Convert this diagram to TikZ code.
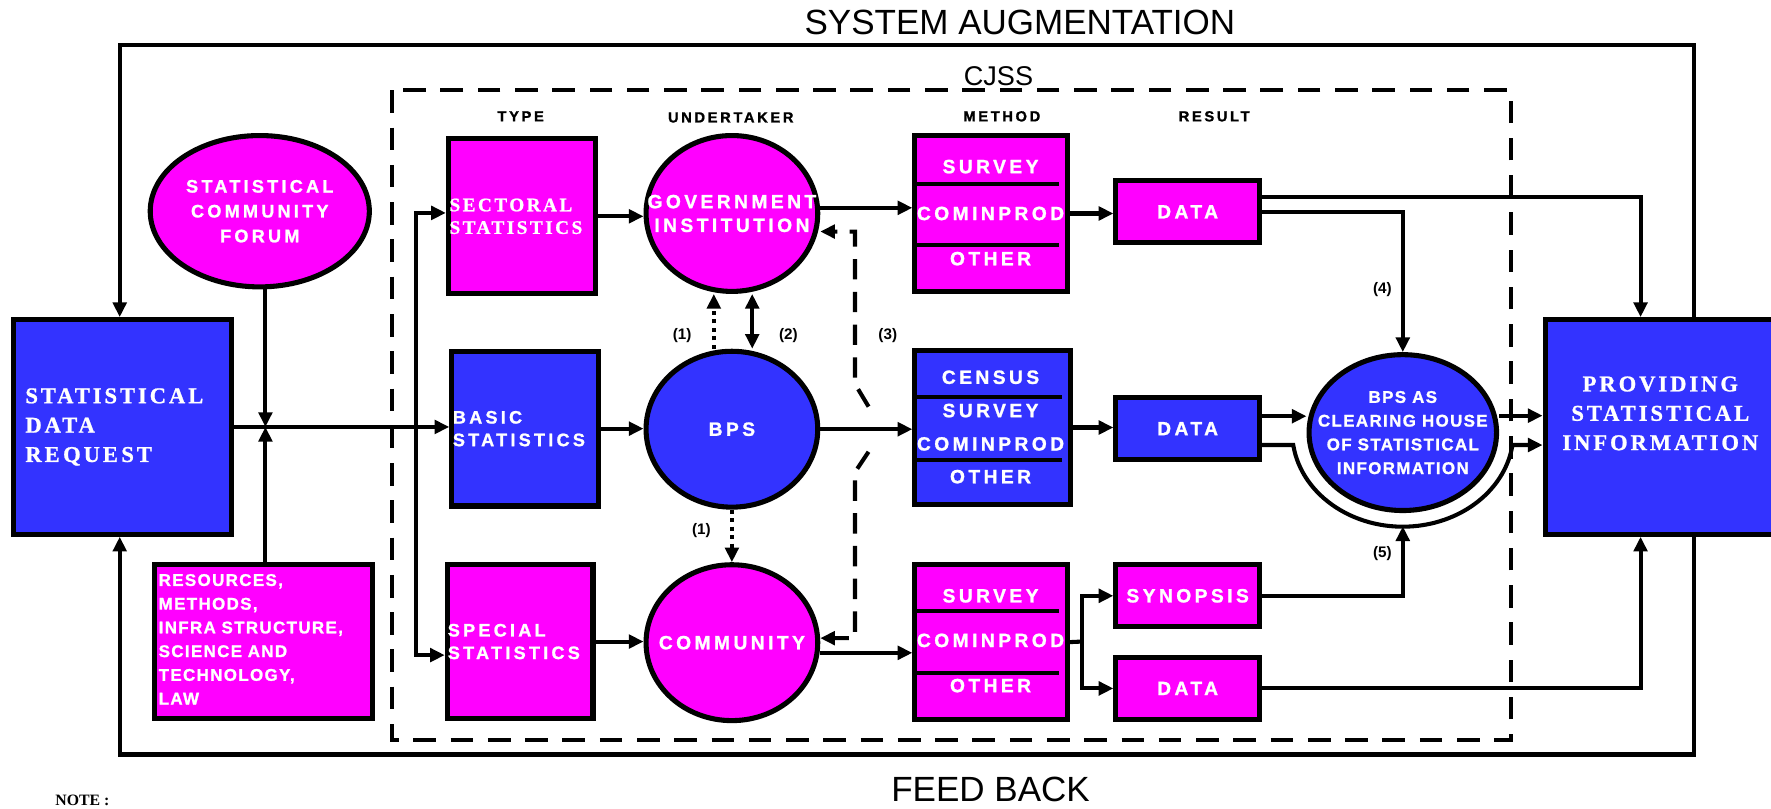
\documentclass[tikz,border=0pt]{standalone}
\usepackage{fontspec}
\setmainfont{Liberation Serif}
\setsansfont{Liberation Sans}
\newfontfamily\nsans[LetterSpace=18, BoldFeatures={FakeBold=1.2}]{Liberation Sans}
\newfontfamily\rsans[LetterSpace=8, BoldFeatures={FakeBold=1.2}]{Liberation Sans}
\newfontfamily\nserif[LetterSpace=13, BoldFeatures={FakeBold=1}]{Liberation Serif}
\usetikzlibrary{arrows.meta,shapes.geometric,calc}
\definecolor{mag}{HTML}{FF00FF}
\definecolor{blu}{HTML}{3333FF}
\tikzset{
  bx/.style={draw=black, line width=4.5pt, inner sep=0pt},
  tf/.style={font=\nsans\bfseries\fontsize{17}{21}\selectfont, text=white, align=center, inner sep=0pt},
  el/.style={ellipse, draw=black, line width=4.5pt, inner sep=0pt, minimum width=152pt, minimum height=138pt},
  hd/.style={font=\nsans\bfseries\fontsize{13}{14}\selectfont},
  lbl/.style={font=\sffamily\bfseries\fontsize{13.5}{14}\selectfont},
  ln/.style={line width=3.6pt},
  arr/.style={line width=3.6pt, -{Triangle[length=13pt,width=12pt]}},
  dblarr/.style={line width=3.6pt, {Triangle[length=13pt,width=12pt]}-{Triangle[length=13pt,width=12pt]}},
  dotarr/.style={arr, dash pattern=on 3.5pt off 4pt},
  dsh/.style={line width=3.6pt, dash pattern=on 20pt off 13pt},
  dshb/.style={arr, dash pattern=on 18pt off 11pt},
  st/.style={font=\nserif\bfseries\fontsize{20}{26}\selectfont, text=white},
}
\begin{document}
\begin{tikzpicture}[x=1pt,y=-1pt]
\useasboundingbox (0,0) rectangle (1568,716);
\clip (0,0) rectangle (1568,716);

% titles
\node[font=\sffamily\fontsize{31}{32}\selectfont] (tsys) at (903,20) {SYSTEM AUGMENTATION};
\node[font=\sffamily\fontsize{31}{32}\selectfont] (tfb) at (877,699) {FEED BACK};
\node[font=\bfseries\fontsize{14}{15}\selectfont, anchor=base] (tnote) at (73,713) {NOTE :};

% dashed CJSS frame
\draw[dsh] (347,80) rectangle (1338,655);
\node[font=\sffamily\fontsize{24}{26}\selectfont] (tcjss) at (884,67) {CJSS};

% headers
\node[hd] (htype) at (461,103) {TYPE};
\node[hd] (hund) at (647,104) {UNDERTAKER};
\node[hd] (hmet) at (887,103) {METHOD};
\node[hd] (hres) at (1075,103) {RESULT};

% left side
\node[bx, fill=blu, minimum width=193pt, minimum height=190pt] (req) at (108.5,378) {};
\node[st, text width=172pt, align=left] (reqt) at (req) {STATISTICAL\\DATA\\RE\hspace{3pt}QUE\hspace{3pt}ST};
\node[el, fill=mag, minimum width=194pt, minimum height=134pt] (forum) at (230,187) {};
\node[tf, font=\nsans\bfseries\fontsize{16}{22}\selectfont] (forumt) at (forum) {STATISTICAL\\COMMUNITY\\FORUM};
\node[bx, fill=mag, minimum width=193pt, minimum height=136pt] (res) at (233.5,568) {};
\node[font=\rsans\bfseries\fontsize{15}{21}\selectfont, text=white, text width=185pt, align=left] (rest) at (233,566)
  {RESOURCES,\\METHODS,\\INFRA STRUCTURE,\\SCIENCE AND\\TECHNOLOGY,\\LAW};

% type boxes
\node[bx, fill=mag, minimum width=130pt, minimum height=137pt] (sec) at (462,191.5) {};
\node[font=\nserif\bfseries\fontsize{17}{20}\selectfont, text=white, text width=128pt, align=left] (sect) at (sec) {SECTORAL\\STATISTICS};
\node[bx, fill=blu, minimum width=130pt, minimum height=137pt] (bas) at (465,379.5) {};
\node[tf, font=\nsans\bfseries\fontsize{16}{20}\selectfont, text width=128pt, align=left] (bast) at (bas) {BASIC\\STATISTICS};
\node[bx, fill=mag, minimum width=129pt, minimum height=136pt] (spe) at (460.5,568) {};
\node[tf, font=\nsans\bfseries\fontsize{16}{20}\selectfont, text width=128pt, align=left] (spet) at (spe) {SPECIAL\\STATISTICS};

% undertakers
\node[el, fill=mag] (gov) at (648,189) {};
\node[tf] (govt) at (gov) {GOVERNMENT\\INSTITUTION};
\node[el, fill=blu] (bps) at (648,380) {};
\node[tf] (bpst) at (bps) {BPS};
\node[el, fill=mag] (com) at (648,569) {};
\node[tf] (comt) at (com) {COMMUNITY};

% method boxes
\node[bx, fill=mag, minimum width=135pt, minimum height=138pt] (m1) at (877.5,189) {};
\node[bx, fill=blu, minimum width=138pt, minimum height=137pt] (m2) at (879,378.5) {};
\node[bx, fill=mag, minimum width=135pt, minimum height=137pt] (m3) at (877.5,568.5) {};
\draw[ln] (810,163) -- (938,163);
\draw[ln] (810,216.5) -- (938,216.5);
\draw[ln] (810,351.5) -- (940,351.5);
\draw[ln] (810,407.5) -- (940,407.5);
\draw[ln] (810,541) -- (938,541);
\draw[ln] (810,596) -- (938,596);
\node[tf] (m1a) at (877,147.5) {SURVEY};
\node[tf] (m1b) at (877,189) {COMINPROD};
\node[tf] (m1c) at (877,229) {OTHER};
\node[tf] (m2a) at (877,334) {CENSUS};
\node[tf] (m2b) at (877,363.5) {SURVEY};
\node[tf] (m2c) at (877,393) {COMINPROD};
\node[tf] (m2d) at (877,422) {OTHER};
\node[tf] (m3a) at (877,527.5) {SURVEY};
\node[tf] (m3b) at (877,567) {COMINPROD};
\node[tf] (m3c) at (877,607) {OTHER};

% results
\node[bx, fill=mag, minimum width=127pt, minimum height=55pt] (d1) at (1051.5,187.5) {};
\node[tf] (d1t) at (d1) {DATA};
\node[bx, fill=blu, minimum width=127pt, minimum height=55pt] (d2) at (1051.5,379.5) {};
\node[tf] (d2t) at (d2) {DATA};
\node[bx, fill=mag, minimum width=127pt, minimum height=55pt] (syn) at (1051.5,527.5) {};
\node[tf] (synt) at (syn) {SYNOPSIS};
\node[bx, fill=mag, minimum width=127pt, minimum height=55pt] (d3) at (1051.5,609.5) {};
\node[tf] (d3t) at (d3) {DATA};

% clearing house
\node[el, fill=blu, minimum width=166pt, minimum height=138pt] (ch) at (1242,383) {};
\node[font=\rsans\bfseries\fontsize{15}{21}\selectfont, text=white, align=center, inner sep=0pt] (cht) at (ch)
  {BPS AS\\CLEARING HOUSE\\OF STATISTICAL\\INFORMATION};

% right box
\node[bx, fill=blu, minimum width=215pt, minimum height=190pt] (info) at (1475.5,378) {};
\node[st, align=center] (infot) at (1470,366) {PROVIDING\\STATISTICAL\\INFORMATION};

% labels
\node[lbl] (l1a) at (604,297) {(1)};
\node[lbl] (l2) at (698,297) {(2)};
\node[lbl] (l3) at (786,297) {(3)};
\node[lbl] (l1b) at (621,470) {(1)};
\node[lbl] (l4) at (1224,256) {(4)};
\node[lbl] (l5) at (1224,490) {(5)};

% left connectors
\coordinate (j) at (235,378);
\coordinate (sp) at (368,378);
\draw[arr] (req.east) -- (req.east -| bas.west);
\draw[arr] (forum.south -| j) -- (j);
\draw[arr] (res.north -| j) -- (j);
\draw[arr] (sp) |- ([yshift=3pt]sec.west);
\draw[arr] (sp) |- ([yshift=-12pt]spe.west);

% type -> undertaker
\draw[arr] (sec.east) -- (sec.east -| gov.west);
\draw[arr] (bas.east) -- (bas.east -| bps.west);
\draw[arr] (spe.east) -- (spe.east -| com.west);

% undertaker links
\draw[dotarr] ([xshift=-16pt]bps.north) -- ([xshift=-16pt]gov.south);
\draw[dblarr] ([xshift=18pt]gov.south) -- ([xshift=18pt]bps.north);
\draw[dotarr] (bps.south) -- (com.north);

% (3) dashed with hop
\coordinate (h1) at (757,340);
\coordinate (h2) at (769,360);
\coordinate (h3) at (769,400);
\coordinate (h4) at (757,418);
\coordinate (g3) at ([yshift=-16pt]gov.east);
\coordinate (c3) at ([yshift=4pt]com.east);
\draw[dshb] (h2) -- (h1) -- (h1 |- g3) -- (g3);
\draw[dshb] (h3) -- (h4) -- (h4 |- c3) -- (c3);

% undertaker -> method
\draw[arr] ([yshift=5pt]gov.east) -- ([yshift=5pt]gov.east -| m1.west);
\draw[arr] (bps.east) -- (bps.east -| m2.west);
\draw[arr] ([yshift=-9pt]com.east) -- ([yshift=-9pt]com.east -| m3.west);

% method -> result
\draw[arr] (m1.east) -- (m1.east -| d1.west);
\draw[arr] (m2.east) -- (m2.east -| d2.west);
\coordinate (k) at (958,568);
\draw[ln] (m3.east) -- (k);
\draw[arr] (k) |- (syn.west);
\draw[arr] (k) |- (d3.west);

% result -> clearing house / info
\draw[arr] ([yshift=13pt]d1.east) -| ([xshift=-23pt]info.north);
\draw[arr] (d1.east) -| (ch.north);
\draw[arr] ([yshift=11pt]d2.east) -- ([yshift=11pt]d2.east -| ch.west);
\coordinate (b1) at (1145,394);
\draw[arr] ([yshift=-14.5pt]d2.east) -- (b1) arc[start angle=172, end angle=8, x radius=98, y radius=84] -- (b1 -| info.west);
\coordinate (arcb) at (1242,466);
\draw[arr] (syn.east) -| (arcb);
\draw[arr] ([yshift=15pt]ch.east) -- ([yshift=15pt]ch.east -| info.west);
\draw[arr] (d3.east) -| ([xshift=-23pt]info.south);

% feedback loops
\coordinate (tl) at (106,40);
\coordinate (tr) at (1500,40);
\coordinate (bl) at (106,668);
\coordinate (br) at (1500,668);
\draw[arr] (info.north -| tr) -- (tr) -- (tl) -- (tl |- req.north);
\draw[arr] (info.south -| br) -- (br) -- (bl) -- (bl |- req.south);
\end{tikzpicture}
\end{document}
